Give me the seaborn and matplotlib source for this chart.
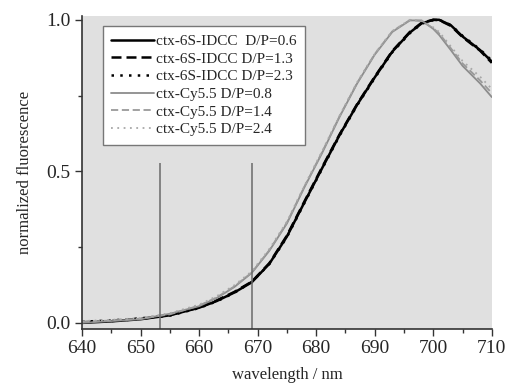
import numpy as np
import pandas as pd
import matplotlib
matplotlib.use('Agg')
import matplotlib.pyplot as plt
import seaborn as sns
from matplotlib.ticker import MultipleLocator

# --- data ---
wavelength = [640, 645, 650, 655, 660, 663, 666, 669, 672, 675, 678, 681, 684,
              687, 690, 693, 696, 698, 700, 701, 703, 705, 708, 710]

idcc_06 = [0.000, 0.005, 0.012, 0.025, 0.050, 0.072, 0.100, 0.134, 0.195, 0.285,
           0.398, 0.510, 0.620, 0.720, 0.810, 0.895, 0.958, 0.988, 1.000, 1.000,
           0.982, 0.945, 0.900, 0.862]
idcc_13 = [0.002, 0.006, 0.013, 0.026, 0.051, 0.074, 0.102, 0.136, 0.197, 0.288,
           0.401, 0.513, 0.622, 0.722, 0.812, 0.897, 0.960, 0.990, 1.000, 0.999,
           0.980, 0.943, 0.898, 0.858]
idcc_23 = [0.004, 0.008, 0.015, 0.024, 0.049, 0.071, 0.099, 0.135, 0.194, 0.283,
           0.396, 0.508, 0.618, 0.718, 0.808, 0.893, 0.956, 0.987, 0.999, 1.000,
           0.983, 0.947, 0.902, 0.865]

cy55_08 = [0.000, 0.006, 0.012, 0.030, 0.055, 0.082, 0.118, 0.165, 0.238, 0.328,
           0.448, 0.560, 0.680, 0.790, 0.885, 0.960, 0.998, 0.998, 0.970, 0.950,
           0.900, 0.848, 0.790, 0.745]
cy55_14 = [0.003, 0.008, 0.014, 0.028, 0.057, 0.084, 0.120, 0.166, 0.240, 0.331,
           0.450, 0.563, 0.682, 0.792, 0.887, 0.962, 0.999, 0.996, 0.972, 0.955,
           0.906, 0.856, 0.800, 0.758]
cy55_24 = [0.006, 0.010, 0.016, 0.032, 0.060, 0.088, 0.124, 0.170, 0.244, 0.334,
           0.453, 0.566, 0.684, 0.794, 0.888, 0.963, 1.000, 0.997, 0.975, 0.960,
           0.912, 0.864, 0.812, 0.772]

labels = ['ctx-6S-IDCC  D/P=0.6', 'ctx-6S-IDCC D/P=1.3', 'ctx-6S-IDCC D/P=2.3',
          'ctx-Cy5.5 D/P=0.8', 'ctx-Cy5.5 D/P=1.4', 'ctx-Cy5.5 D/P=2.4']
series = [idcc_06, idcc_13, idcc_23, cy55_08, cy55_14, cy55_24]

marker_lines = [653.3, 669.0]

# --- styles ---
colors = ['black', 'black', 'black', '#8c8c8c', '#9a9a9a', '#a8a8a8']
styles = ['-', (0, (4, 2)), (0, (1, 2.5)), '-', (0, (4, 2)), (0, (1, 2.5))]
widths = [1.8, 1.8, 1.8, 1.3, 1.3, 1.3]

sns.set_theme(style='ticks')
plt.rcParams['font.family'] = ['Liberation Serif', 'DejaVu Serif']

fig = plt.figure(figsize=(5.06, 3.87), dpi=100)
ax = fig.add_axes([0.162, 0.150, 0.810, 0.809])
ax.set_facecolor('#e0e0e0')

for vals, lab, c, ls, lw in zip(series, labels, colors, styles, widths):
    df = pd.DataFrame({'wavelength': wavelength, 'fluor': vals})
    sns.lineplot(data=df, x='wavelength', y='fluor', ax=ax, color=c,
                 linestyle=ls, linewidth=lw, label=lab)

ax.vlines(marker_lines, -0.02, 0.528, color='#6a6a6a', linewidth=1.1)

ax.set_xlim(640, 710)
ax.set_ylim(-0.02, 1.013)
ax.xaxis.set_major_locator(MultipleLocator(10))
ax.xaxis.set_minor_locator(MultipleLocator(5))
ax.yaxis.set_major_locator(MultipleLocator(0.5))
ax.yaxis.set_minor_locator(MultipleLocator(0.25))
ax.yaxis.set_major_formatter(matplotlib.ticker.FormatStrFormatter('%.1f'))
ax.tick_params(which='major', direction='out', length=5, width=1.0,
               labelsize=14, color='#333333', pad=3)
ax.tick_params(which='minor', direction='out', length=3, width=1.0, color='#333333')

for s in ['top', 'right']:
    ax.spines[s].set_visible(False)
for s in ['left', 'bottom']:
    ax.spines[s].set_color('#333333')
    ax.spines[s].set_linewidth(1.2)

ax.set_xlabel('wavelength / nm', fontsize=12, labelpad=7)
ax.set_ylabel('normalized fluorescence', fontsize=12, labelpad=10)

leg = ax.legend(loc='upper left', bbox_to_anchor=(0.051, 0.968), fontsize=11,
                frameon=True, fancybox=False, handlelength=2.8,
                handletextpad=0.15, labelspacing=0.26, borderpad=0.55,
                borderaxespad=0)
leg.get_frame().set_facecolor('white')
leg.get_frame().set_edgecolor('#777777')
leg.get_frame().set_linewidth(1.0)
leg.get_frame().set_alpha(1)

fig.savefig('out.png', dpi=100)
